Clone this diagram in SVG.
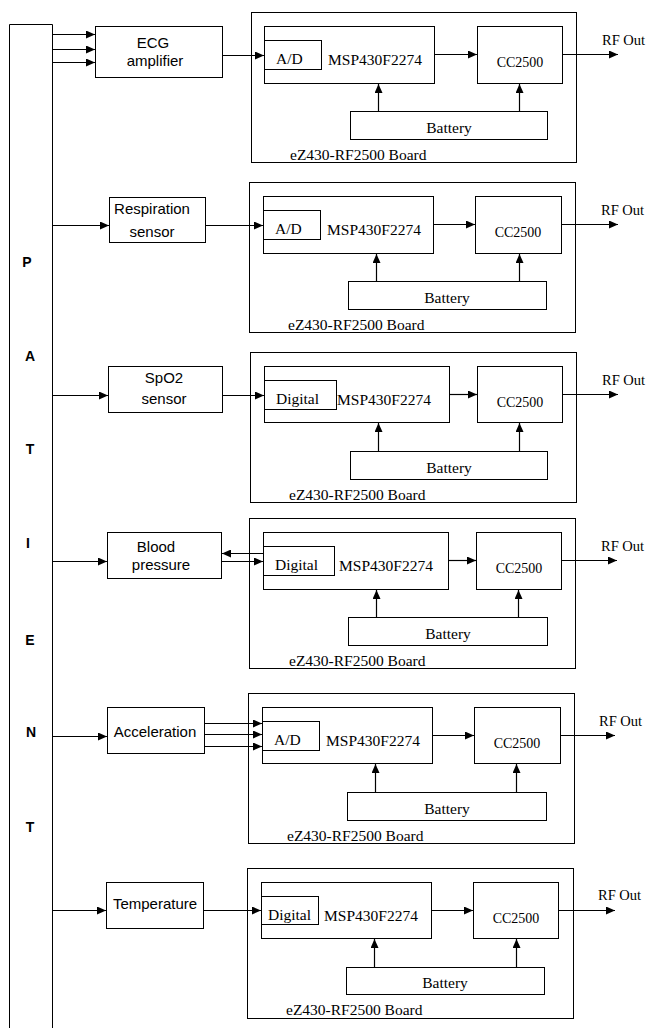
<svg xmlns="http://www.w3.org/2000/svg" width="648" height="1028" viewBox="0 0 648 1028">
<style>
.box{fill:none;stroke:#000;stroke-width:1}
.ln{fill:none;stroke:#000;stroke-width:1.2}
.arr{fill:none;stroke:#000;stroke-width:1.2;marker-end:url(#ah)}
.ss{font-family:"Liberation Sans",Arial,sans-serif;font-size:15px;fill:#000}
.sm{font-family:"Liberation Sans",Arial,sans-serif;font-size:15px;fill:#000;text-anchor:middle}
.pl{font-family:"Liberation Sans",Arial,sans-serif;font-size:14px;font-weight:bold;fill:#000;text-anchor:middle}
.sf{font-family:"Liberation Serif","Times New Roman",serif;font-size:15.5px;fill:#000}
.sfm{font-family:"Liberation Serif","Times New Roman",serif;font-size:15.5px;fill:#000;text-anchor:middle}
.cc{font-family:"Liberation Serif","Times New Roman",serif;font-size:14px;fill:#000;text-anchor:middle}
.rf{font-family:"Liberation Serif","Times New Roman",serif;font-size:14.5px;fill:#000}
</style>
<defs>
<marker id="ah" markerUnits="userSpaceOnUse" markerWidth="9" markerHeight="8" refX="9" refY="4" orient="auto">
<path d="M0,0 L9,4 L0,8 z" fill="#000"/>
</marker>
</defs>
<rect width="648" height="1028" fill="#fff"/>

<g id="patient">
<path class="box" d="M9.5,1040 V24.5 H52.5 V1040"/>
<text class="pl" x="27" y="267">P</text>
<text class="pl" x="30" y="361">A</text>
<text class="pl" x="30" y="454">T</text>
<text class="pl" x="28" y="548">I</text>
<text class="pl" x="30" y="645">E</text>
<text class="pl" x="31" y="737">N</text>
<text class="pl" x="30" y="832">T</text>
</g>

<g id="ecg-amplifier">
<rect class="box" x="95.5" y="26.5" width="127" height="51"/>
<text class="sm" x="153" y="48">ECG</text>
<text class="sm" x="155" y="66">amplifier</text>
</g>
<g id="respiration-sensor">
<rect class="box" x="109.5" y="197.5" width="96" height="45"/>
<text class="sm" x="152" y="214">Respiration</text>
<text class="sm" x="152" y="237">sensor</text>
</g>
<g id="spo2-sensor">
<rect class="box" x="108.5" y="366.5" width="114" height="46"/>
<text class="sm" x="164" y="383">SpO2</text>
<text class="sm" x="164" y="404">sensor</text>
</g>
<g id="blood-pressure">
<rect class="box" x="107.5" y="532.5" width="114" height="46"/>
<text class="sm" x="156" y="552">Blood</text>
<text class="sm" x="161" y="570">pressure</text>
</g>
<g id="acceleration">
<rect class="box" x="107.5" y="707.5" width="97" height="46"/>
<text class="sm" x="155" y="737">Acceleration</text>
</g>
<g id="temperature">
<rect class="box" x="106.5" y="882.5" width="97" height="46"/>
<text class="sm" x="155" y="909">Temperature</text>
</g>

<g id="board-1">
<rect class="box" x="251.5" y="12.5" width="325" height="150"/>
<rect class="box" x="264.5" y="26.5" width="170" height="57"/>
<rect class="box" x="264.5" y="40.5" width="57" height="29"/>
<rect class="box" x="477.5" y="26.5" width="85" height="57"/>
<rect class="box" x="350.5" y="111.5" width="197" height="28"/>
<text class="sf" x="276" y="64">A/D</text>
<text class="sf" x="328" y="65">MSP430F2274</text>
<text class="cc" x="520" y="67">CC2500</text>
<text class="sfm" x="449" y="133">Battery</text>
<text class="sf" x="290" y="160">eZ430-RF2500 Board</text>
<text class="rf" x="602" y="45">RF Out</text>
</g>
<g id="board-2">
<rect class="box" x="249.5" y="182.5" width="326" height="150"/>
<rect class="box" x="263.5" y="196.5" width="170" height="57"/>
<rect class="box" x="263.5" y="210.5" width="57" height="29"/>
<rect class="box" x="475.5" y="196.5" width="86" height="57"/>
<rect class="box" x="348.5" y="281.5" width="198" height="28"/>
<text class="sf" x="275" y="234">A/D</text>
<text class="sf" x="327" y="235">MSP430F2274</text>
<text class="cc" x="518" y="237">CC2500</text>
<text class="sfm" x="447" y="303">Battery</text>
<text class="sf" x="288" y="330">eZ430-RF2500 Board</text>
<text class="rf" x="601" y="215">RF Out</text>
</g>
<g id="board-3">
<rect class="box" x="250.5" y="352.5" width="326" height="150"/>
<rect class="box" x="264.5" y="366.5" width="185" height="56"/>
<rect class="box" x="264.5" y="380.5" width="72" height="29"/>
<rect class="box" x="477.5" y="366.5" width="85" height="56"/>
<rect class="box" x="350.5" y="451.5" width="197" height="28"/>
<text class="sf" x="276" y="404">Digital</text>
<text class="sf" x="337" y="405">MSP430F2274</text>
<text class="cc" x="520" y="407">CC2500</text>
<text class="sfm" x="449" y="473">Battery</text>
<text class="sf" x="289" y="500">eZ430-RF2500 Board</text>
<text class="rf" x="602" y="385">RF Out</text>
</g>
<g id="board-4">
<rect class="box" x="249.5" y="518.5" width="326" height="150"/>
<rect class="box" x="263.5" y="532.5" width="185" height="57"/>
<rect class="box" x="263.5" y="546.5" width="71" height="29"/>
<rect class="box" x="476.5" y="532.5" width="85" height="57"/>
<rect class="box" x="348.5" y="617.5" width="199" height="28"/>
<text class="sf" x="275" y="570">Digital</text>
<text class="sf" x="339" y="571">MSP430F2274</text>
<text class="cc" x="519" y="573">CC2500</text>
<text class="sfm" x="448" y="639">Battery</text>
<text class="sf" x="289" y="666">eZ430-RF2500 Board</text>
<text class="rf" x="601" y="551">RF Out</text>
</g>
<g id="board-5">
<rect class="box" x="248.5" y="693.5" width="326" height="150"/>
<rect class="box" x="262.5" y="707.5" width="170" height="56"/>
<rect class="box" x="262.5" y="721.5" width="57" height="29"/>
<rect class="box" x="474.5" y="707.5" width="86" height="56"/>
<rect class="box" x="347.5" y="792.5" width="199" height="28"/>
<text class="sf" x="274" y="745">A/D</text>
<text class="sf" x="326" y="746">MSP430F2274</text>
<text class="cc" x="517" y="748">CC2500</text>
<text class="sfm" x="447" y="814">Battery</text>
<text class="sf" x="287" y="841">eZ430-RF2500 Board</text>
<text class="rf" x="599" y="726">RF Out</text>
</g>
<g id="board-6">
<rect class="box" x="247.5" y="868.5" width="326" height="150"/>
<rect class="box" x="261.5" y="882.5" width="170" height="56"/>
<rect class="box" x="261.5" y="896.5" width="57" height="28"/>
<rect class="box" x="473.5" y="882.5" width="85" height="56"/>
<rect class="box" x="346.5" y="967.5" width="198" height="27"/>
<text class="sf" x="268" y="920">Digital</text>
<text class="sf" x="324" y="921">MSP430F2274</text>
<text class="cc" x="516" y="923">CC2500</text>
<text class="sfm" x="445" y="988">Battery</text>
<text class="sf" x="286" y="1015">eZ430-RF2500 Board</text>
<text class="rf" x="598" y="900">RF Out</text>
</g>

<g id="connectors">
<path class="arr" d="M52.5,34.5 H95"/>
<path class="arr" d="M52.5,49.5 H95"/>
<path class="arr" d="M52.5,62.5 H95"/>
<path class="arr" d="M222.5,55.5 H264"/>
<path class="arr" d="M434.5,54.5 H477"/>
<path class="arr" d="M562.5,54.5 H618"/>
<path class="arr" d="M378.5,111.5 V84"/>
<path class="arr" d="M519.5,111.5 V84"/>

<path class="arr" d="M52.5,225.5 H109"/>
<path class="arr" d="M205.5,225.5 H263"/>
<path class="arr" d="M433.5,224.5 H475"/>
<path class="arr" d="M561.5,224.5 H618"/>
<path class="arr" d="M376.5,281.5 V254"/>
<path class="arr" d="M519.5,281.5 V254"/>

<path class="arr" d="M52.5,395.5 H108"/>
<path class="arr" d="M222.5,395.5 H264"/>
<path class="arr" d="M449.5,394.5 H477"/>
<path class="arr" d="M562.5,394.5 H618"/>
<path class="arr" d="M378.5,451.5 V423"/>
<path class="arr" d="M519.5,451.5 V423"/>

<path class="arr" d="M52.5,561.5 H107"/>
<path class="arr" d="M221.5,561.5 H263"/>
<path class="arr" d="M263.5,553.5 H222"/>
<path class="arr" d="M448.5,560.5 H476"/>
<path class="arr" d="M561.5,560.5 H617"/>
<path class="arr" d="M376.5,617.5 V590"/>
<path class="arr" d="M518.5,617.5 V590"/>

<path class="arr" d="M52.5,736.5 H107"/>
<path class="arr" d="M204.5,723.5 H262"/>
<path class="arr" d="M204.5,734.5 H262"/>
<path class="arr" d="M204.5,746.5 H262"/>
<path class="arr" d="M432.5,735.5 H474"/>
<path class="arr" d="M560.5,735.5 H615"/>
<path class="arr" d="M375.5,792.5 V764"/>
<path class="arr" d="M516.5,792.5 V764"/>

<path class="arr" d="M52.5,910.5 H106"/>
<path class="arr" d="M203.5,910.5 H261"/>
<path class="arr" d="M431.5,910.5 H473"/>
<path class="arr" d="M558.5,910.5 H615"/>
<path class="arr" d="M374.5,967.5 V939"/>
<path class="arr" d="M516.5,967.5 V939"/>
</g>
</svg>
